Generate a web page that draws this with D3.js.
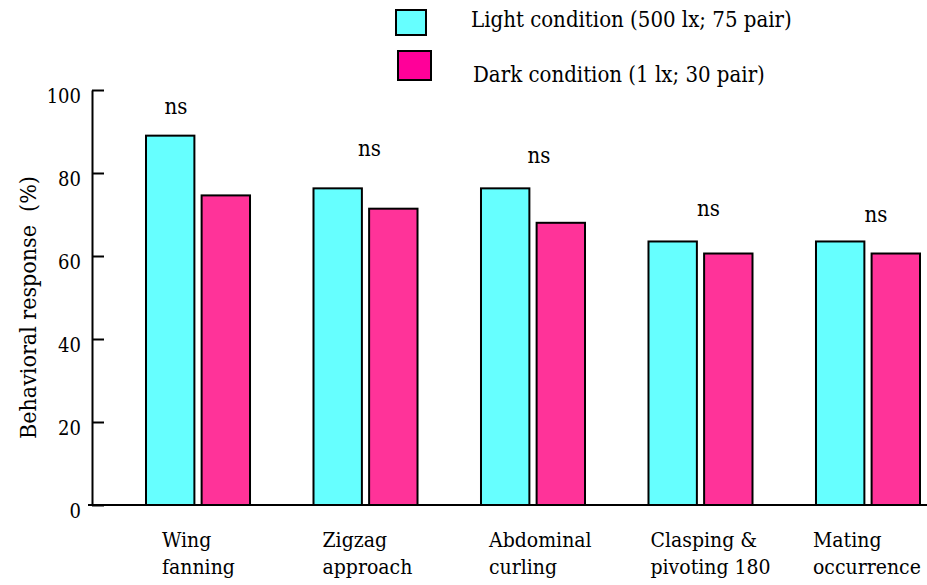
<!DOCTYPE html>
<html>
<head>
<meta charset="utf-8">
<script src="https://cdn.jsdelivr.net/npm/d3@7"></script>
<style>
  html, body { margin: 0; padding: 0; background: #fff; }
  svg { display: block; }
</style>
</head>
<body>
<svg id="chart" width="927" height="585"></svg>
<script>
// Behaviours scored in each mating trial
const categories = [
  ["Wing", "fanning"],
  ["Zigzag", "approach"],
  ["Abdominal", "curling"],
  ["Clasping &", "pivoting 180"],
  ["Mating", "occurrence"]
];
const series = ["Light condition (500 lx; 75 pair)", "Dark condition (1 lx; 30 pair)"];
const lightValues = [89.0, 76.3, 76.3, 63.5, 63.5];
const darkValues  = [74.6, 71.4, 68.0, 60.6, 60.6];
const significance = ["ns", "ns", "ns", "ns", "ns"];
const yTicks = [0, 20, 40, 60, 80, 100];

// Layout
const W = 927, H = 585;
const axisX = 92, baseY = 505, topY = 90;
const FONT = "'DejaVu Serif Condensed', 'DejaVu Serif', serif";
const barColors = ["#66ffff", "#ff3399"];
const legendColors = ["#66ffff", "#ff0099"];
// placement of the "ns" marks (value height and x shift from group centre)
const nsLevel = [94.2, 84.1, 82.4, 69.6, 68.2];
const nsShift = [-22, 4, 6, 8, 8];
// shift of each category label from its group's left edge
const labelShift = [16, 9, 8, 2, -3];

const svg = d3.select("#chart");
const keys = categories.map(c => c.join(" "));

const x = d3.scaleBand().domain(keys).range([146, 920]).paddingInner(0.379).paddingOuter(0);
const xs = d3.scaleBand().domain(series).range([0, x.bandwidth()]).paddingInner(0.13);
const y = d3.scaleLinear().domain([0, 100]).range([baseY, topY]);

const rows = keys.map((k, i) => ({ key: k, lines: categories[i], values: [lightValues[i], darkValues[i]] }));

function styleText(sel, size) {
  return sel.attr("font-family", FONT)
    .style("font-family", FONT)
    .style("font-stretch", "condensed")
    .style("font-size", size + "px")
    .attr("fill", "#000");
}

// bars
const groups = svg.append("g").selectAll("g").data(rows).join("g")
  .attr("transform", d => `translate(${x(d.key)},0)`);
groups.selectAll("rect").data(d => d.values.map((v, j) => ({ s: series[j], v, j })))
  .join("rect")
  .attr("x", d => xs(d.s))
  .attr("width", xs.bandwidth())
  .attr("y", d => y(d.v))
  .attr("height", d => y(0) - y(d.v))
  .attr("fill", d => barColors[d.j])
  .attr("stroke", "#000")
  .attr("stroke-width", 2);

// y axis with inward ticks
const yAxis = d3.axisLeft(y).tickValues(yTicks).tickSizeInner(-12).tickSizeOuter(0).tickPadding(11);
const ga = svg.append("g").attr("transform", `translate(${axisX},0)`).call(yAxis);
ga.select(".domain").attr("stroke", "#000").attr("stroke-width", 2);
ga.selectAll(".tick line").attr("stroke", "#000").attr("stroke-width", 2);
styleText(ga.selectAll(".tick text").attr("y", 6), 20);

// baseline
svg.append("line")
  .attr("x1", axisX - 4).attr("x2", W).attr("y1", baseY).attr("y2", baseY)
  .attr("stroke", "#000").attr("stroke-width", 2);

// y title
styleText(svg.append("text")
  .attr("transform", `translate(36,${(183 + 432) / 2}) rotate(-90)`)
  .attr("text-anchor", "middle")
  .text("Behavioral response\u00a0 (%)"), 23);

// significance marks
styleText(svg.append("g").selectAll("text").data(rows).join("text")
  .attr("x", (d, i) => x(d.key) + x.bandwidth() / 2 + nsShift[i])
  .attr("y", (d, i) => y(nsLevel[i]))
  .attr("text-anchor", "middle")
  .text((d, i) => significance[i]), 22);

// category labels (two lines each)
const lab = styleText(svg.append("g").selectAll("text").data(rows).join("text")
  .attr("x", (d, i) => x(d.key) + labelShift[i])
  .attr("y", 547), 21);
lab.selectAll("tspan").data(d => d.lines).join("tspan")
  .attr("x", function () { return d3.select(this.parentNode).attr("x"); })
  .attr("dy", (d, i) => i === 0 ? 0 : 27)
  .text(d => d);

// legend
const legend = svg.append("g");
const legendRows = [
  { sx: 396, sy: 10, sw: 30, sh: 25, tx: 471, ty: 27 },
  { sx: 398, sy: 51, sw: 33, sh: 29, tx: 473, ty: 82 }
];
legendRows.forEach((r, i) => {
  legend.append("rect")
    .attr("x", r.sx).attr("y", r.sy).attr("width", r.sw).attr("height", r.sh)
    .attr("fill", legendColors[i]).attr("stroke", "#000").attr("stroke-width", 2);
  styleText(legend.append("text")
    .attr("x", r.tx).attr("y", r.ty)
    .text(series[i]), 22);
});
</script>
</body>
</html>
